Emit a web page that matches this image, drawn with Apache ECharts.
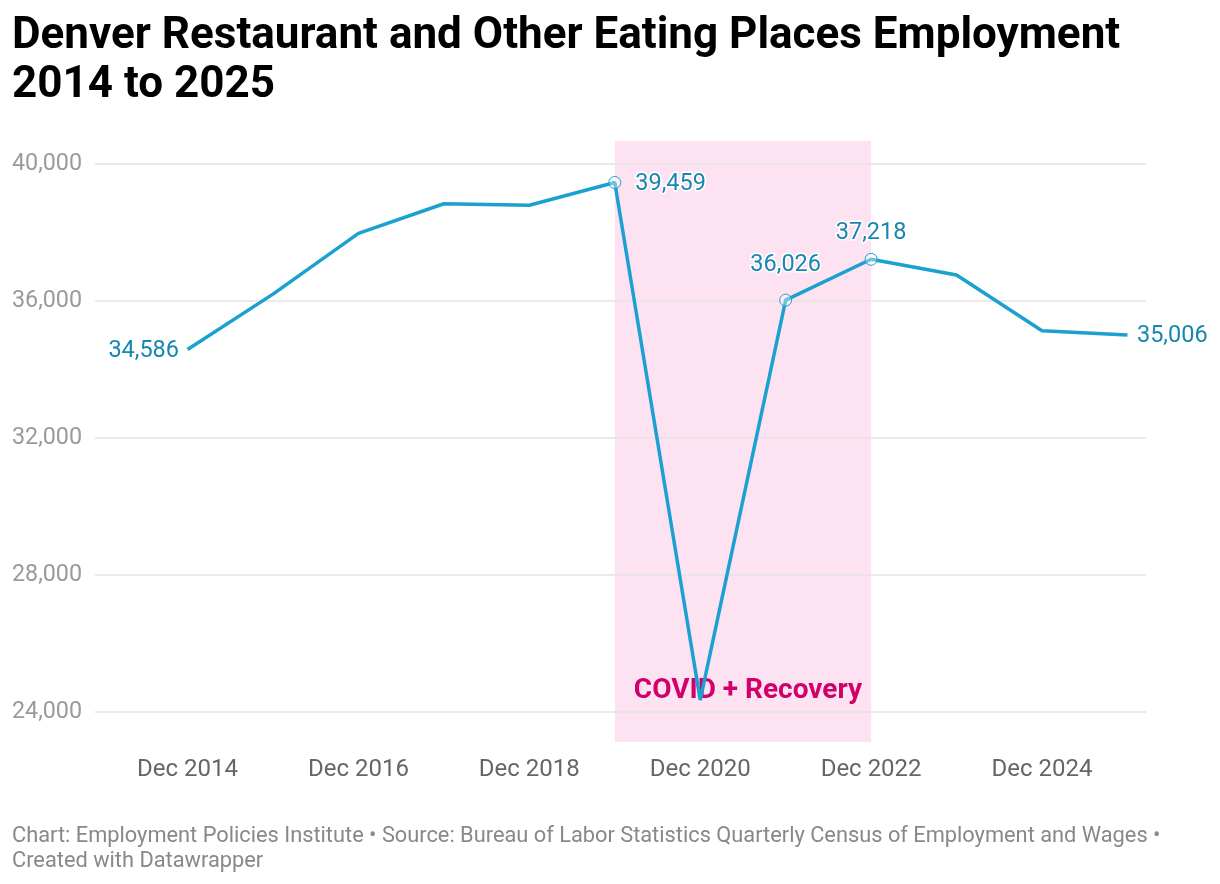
<!DOCTYPE html>
<html>
<head>
<meta charset="utf-8">
<script src="https://cdn.jsdelivr.net/npm/echarts@6/dist/echarts.min.js"></script>
<style>
  html, body { margin: 0; padding: 0; background: #fff; }
  #main { width: 1220px; height: 884px; }
</style>
</head>
<body>
<div id="main"></div>
<script>
// data
var years = [2014, 2015, 2016, 2017, 2018, 2019, 2020, 2021, 2022, 2023, 2024, 2025];
var employment = [34586, 36200, 37976, 38840, 38795, 39459, 24350, 36026, 37218, 36759, 35133, 35006];
var labelledYears = [2014, 2019, 2021, 2022, 2025];
var circledYears = [2019, 2021, 2022];
var tickYears = [2014, 2016, 2018, 2020, 2022, 2024];
var covidRange = [2019, 2022];

var lineColor = '#1ba1d0';
var labelColor = '#1787b1';
var font = 'Roboto';

// label placement for annotated points
var labelPos = {
  2014: { position: 'left', distance: 8, offset: [0, 2] },
  2019: { position: 'right', distance: 14, offset: [0, 2] },
  2021: { position: 'top', distance: 16, offset: [0, 0] },
  2022: { position: 'top', distance: 8, offset: [0, 0] },
  2025: { position: 'right', distance: 9, offset: [0, 1] }
};

var seriesData = years.map(function (y, i) {
  var item = { value: [y, employment[i]] };
  if (circledYears.indexOf(y) > -1) {
    item.symbol = 'circle';
    item.symbolSize = 12;
    item.itemStyle = { color: 'rgba(255,255,255,0.35)', borderColor: lineColor, borderWidth: 1 };
  } else {
    item.symbol = 'circle';
    item.symbolSize = 1;
    item.itemStyle = { color: 'transparent', borderWidth: 0 };
  }
  if (labelledYears.indexOf(y) > -1) {
    item.label = {
      show: true,
      position: labelPos[y].position,
      distance: labelPos[y].distance,
      offset: labelPos[y].offset,
      formatter: function (p) { return p.value[1].toLocaleString('en-US'); },
      color: labelColor,
      fontFamily: font,
      fontSize: 23.5,
      textBorderColor: '#fff',
      textBorderWidth: 3
    };
  }
  return item;
});

var xMin = 2012.917, xMax = 2025.217;

var myChart = echarts.init(document.getElementById('main'));
var option = {
  animation: false,
  backgroundColor: '#fff',
  textStyle: { fontFamily: font },
  title: [{
    text: 'Denver Restaurant and Other Eating Places Employment\n2014 to 2025',
    left: 7,
    top: 7,
    textStyle: { fontFamily: font, fontSize: 44, fontWeight: 'bold', color: '#000', lineHeight: 49 }
  }, {
    text: 'Chart: Employment Policies Institute \u2022 Source: Bureau of Labor Statistics Quarterly Census of Employment and Wages \u2022\nCreated with Datawrapper',
    left: 7,
    top: 819,
    textStyle: { fontFamily: font, fontSize: 21.8, fontWeight: 'normal', color: '#888', lineHeight: 25 }
  }],
  grid: [
    // band grid (taller than the plot)
    { left: 95, right: 74, top: 141, bottom: 142 },
    // plot grid
    { left: 95, right: 74, top: 164, bottom: 172 }
  ],
  xAxis: [{
    gridIndex: 0, type: 'value', min: xMin, max: xMax, show: false
  }, {
    gridIndex: 1, type: 'value', min: xMin, max: xMax,
    axisLine: { show: false }, axisTick: { show: false }, splitLine: { show: false },
    axisLabel: {
      customValues: tickYears,
      formatter: function (v) { return 'Dec ' + v; },
      color: '#666', fontSize: 24, fontFamily: font, margin: 46
    }
  }],
  yAxis: [{
    gridIndex: 0, type: 'value', min: 0, max: 1, show: false
  }, {
    gridIndex: 1, type: 'value', min: 24000, max: 40000, interval: 4000, z: 3,
    axisLine: { show: false }, axisTick: { show: false },
    splitLine: { lineStyle: { color: '#e3e3e3', width: 1.5 } },
    axisLabel: {
      color: '#9a9a9a', fontSize: 23.3, fontFamily: font, margin: 13,
      formatter: function (v) { return v.toLocaleString('en-US'); }
    }
  }],
  series: [{
    type: 'line',
    xAxisIndex: 0,
    yAxisIndex: 0,
    z: 0,
    data: [],
    silent: true,
    markArea: {
      silent: true,
      itemStyle: { color: '#fde3f1' },
      label: {
        show: true,
        position: 'insideBottom',
        distance: 37,
        offset: [5, 0],
        color: '#d1006a',
        fontFamily: font,
        fontSize: 28,
        fontWeight: 'bold'
      },
      data: [[{ name: 'COVID + Recovery', xAxis: covidRange[0] }, { xAxis: covidRange[1] }]]
    }
  }, {
    type: 'line',
    xAxisIndex: 1,
    yAxisIndex: 1,
    z: 5,
    data: seriesData,
    lineStyle: { color: lineColor, width: 3.5 },
    itemStyle: { color: lineColor },
    showAllSymbol: true
  }]
};
myChart.setOption(option);
</script>
</body>
</html>
